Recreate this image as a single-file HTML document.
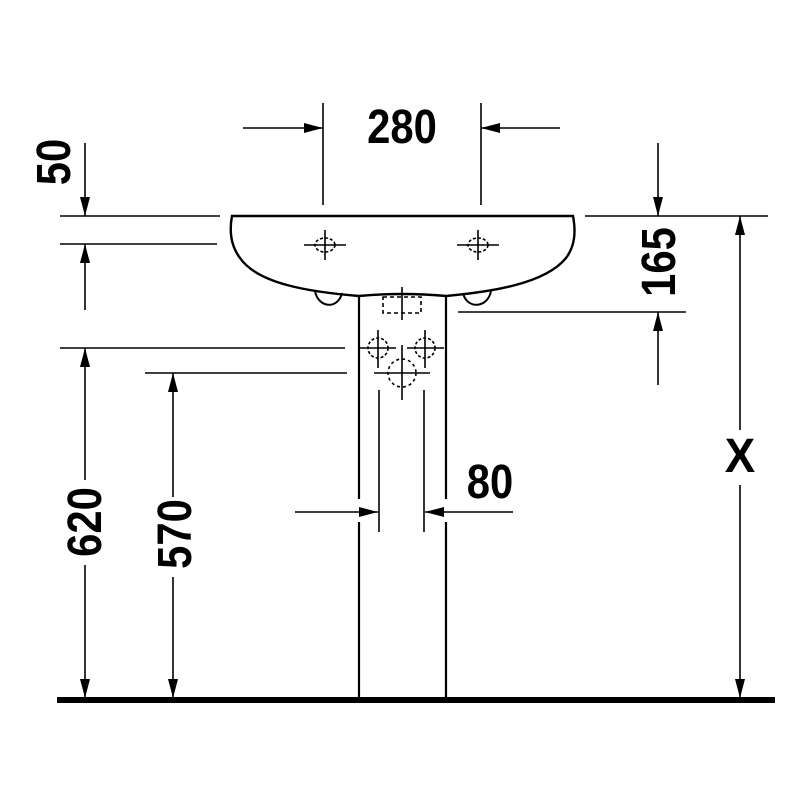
<!DOCTYPE html>
<html><head><style>html,body{margin:0;padding:0;background:#fff}svg{display:block}
text{font-family:"Liberation Sans",sans-serif;font-weight:bold;font-size:48px;fill:#000}</style></head>
<body>
<svg width="800" height="800" viewBox="0 0 800 800" xmlns="http://www.w3.org/2000/svg">
<defs>
<marker id="a" markerWidth="20" markerHeight="12" refX="19" refY="5" orient="auto" markerUnits="userSpaceOnUse">
<path d="M0,0 L19,5 L0,10 Z" fill="#000"/></marker>
</defs>
<g stroke="#000" stroke-width="1.6" fill="none">
<path stroke-width="2.4" d="M232,216 L573,216 C576,232 575,246 566,258 C545,284 490,292 446,296 Q402,292 359,296 C310,292 258,284 240,258 C231,246 229,232 232,216 Z"/>
<path stroke-width="2" d="M315,291 C318,308 338,310 342,293"/>
<path stroke-width="2" d="M463,293 C467,310 488,308 491,291"/>
<line x1="359" y1="296" x2="359" y2="499" stroke-width="2.2"/>
<line x1="359" y1="522" x2="359" y2="698" stroke-width="2.2"/>
<line x1="446" y1="296" x2="446" y2="499" stroke-width="2.2"/>
<line x1="446" y1="522" x2="446" y2="698" stroke-width="2.2"/>
<line x1="304" y1="245" x2="346" y2="245"/><line x1="325" y1="230" x2="325" y2="260"/>
<ellipse cx="325" cy="245" rx="10" ry="7" stroke-dasharray="3,2"/>
<line x1="457" y1="245" x2="499" y2="245"/><line x1="478" y1="230" x2="478" y2="260"/>
<ellipse cx="478" cy="245" rx="10" ry="7" stroke-dasharray="3,2"/>
<rect x="383" y="297" width="38" height="16" stroke-dasharray="4,3"/>
<line x1="402" y1="287" x2="402" y2="320"/>
<circle cx="378" cy="348" r="10" stroke-dasharray="3,2"/>
<circle cx="425" cy="348" r="10" stroke-dasharray="3,2"/>
<circle cx="402" cy="373" r="14" stroke-dasharray="3,3"/>
<line x1="360" y1="348" x2="396" y2="348"/><line x1="407" y1="348" x2="444" y2="348"/>
<line x1="378" y1="330" x2="378" y2="368"/><line x1="425" y1="330" x2="425" y2="368"/>
<line x1="374" y1="373" x2="430" y2="373"/><line x1="402" y1="345" x2="402" y2="400"/>
<line x1="323" y1="103" x2="323" y2="205"/><line x1="481" y1="103" x2="481" y2="205"/>
<line x1="243" y1="128" x2="323" y2="128" marker-end="url(#a)"/>
<line x1="560" y1="128" x2="481" y2="128" marker-end="url(#a)"/>
<line x1="60" y1="216" x2="220" y2="216"/><line x1="60" y1="244" x2="217" y2="244"/>
<line x1="85" y1="143" x2="85" y2="216" marker-end="url(#a)"/>
<line x1="85" y1="310" x2="85" y2="244" marker-end="url(#a)"/>
<line x1="585" y1="216" x2="768" y2="216"/><line x1="458" y1="312" x2="686" y2="312"/>
<line x1="658" y1="143" x2="658" y2="216" marker-end="url(#a)"/>
<line x1="658" y1="385" x2="658" y2="312" marker-end="url(#a)"/>
<line x1="740" y1="430" x2="740" y2="216" marker-end="url(#a)"/>
<line x1="740" y1="485" x2="740" y2="698" marker-end="url(#a)"/>
<line x1="60" y1="348" x2="345" y2="348"/>
<line x1="85" y1="480" x2="85" y2="348" marker-end="url(#a)"/>
<line x1="85" y1="565" x2="85" y2="698" marker-end="url(#a)"/>
<line x1="145" y1="373" x2="347" y2="373"/>
<line x1="173" y1="497" x2="173" y2="373" marker-end="url(#a)"/>
<line x1="173" y1="577" x2="173" y2="698" marker-end="url(#a)"/>
<line x1="379" y1="390" x2="379" y2="532"/><line x1="424" y1="390" x2="424" y2="532"/>
<line x1="295" y1="512" x2="378" y2="512" marker-end="url(#a)"/>
<line x1="513" y1="512" x2="425" y2="512" marker-end="url(#a)"/>
<line x1="57" y1="700" x2="775" y2="700" stroke-width="6"/>
</g>
<text transform="translate(402,143) scale(0.87,1)" text-anchor="middle">280</text>
<text transform="translate(490,498) scale(0.87,1)" text-anchor="middle">80</text>
<text transform="translate(740,472) scale(0.95,1)" text-anchor="middle">X</text>
<text transform="translate(70,162) rotate(-90) scale(0.87,1)" text-anchor="middle">50</text>
<text transform="translate(675,262) rotate(-90) scale(0.87,1)" text-anchor="middle">165</text>
<text transform="translate(101,522) rotate(-90) scale(0.87,1)" text-anchor="middle">620</text>
<text transform="translate(191,534) rotate(-90) scale(0.87,1)" text-anchor="middle">570</text>
</svg>
</body></html>
